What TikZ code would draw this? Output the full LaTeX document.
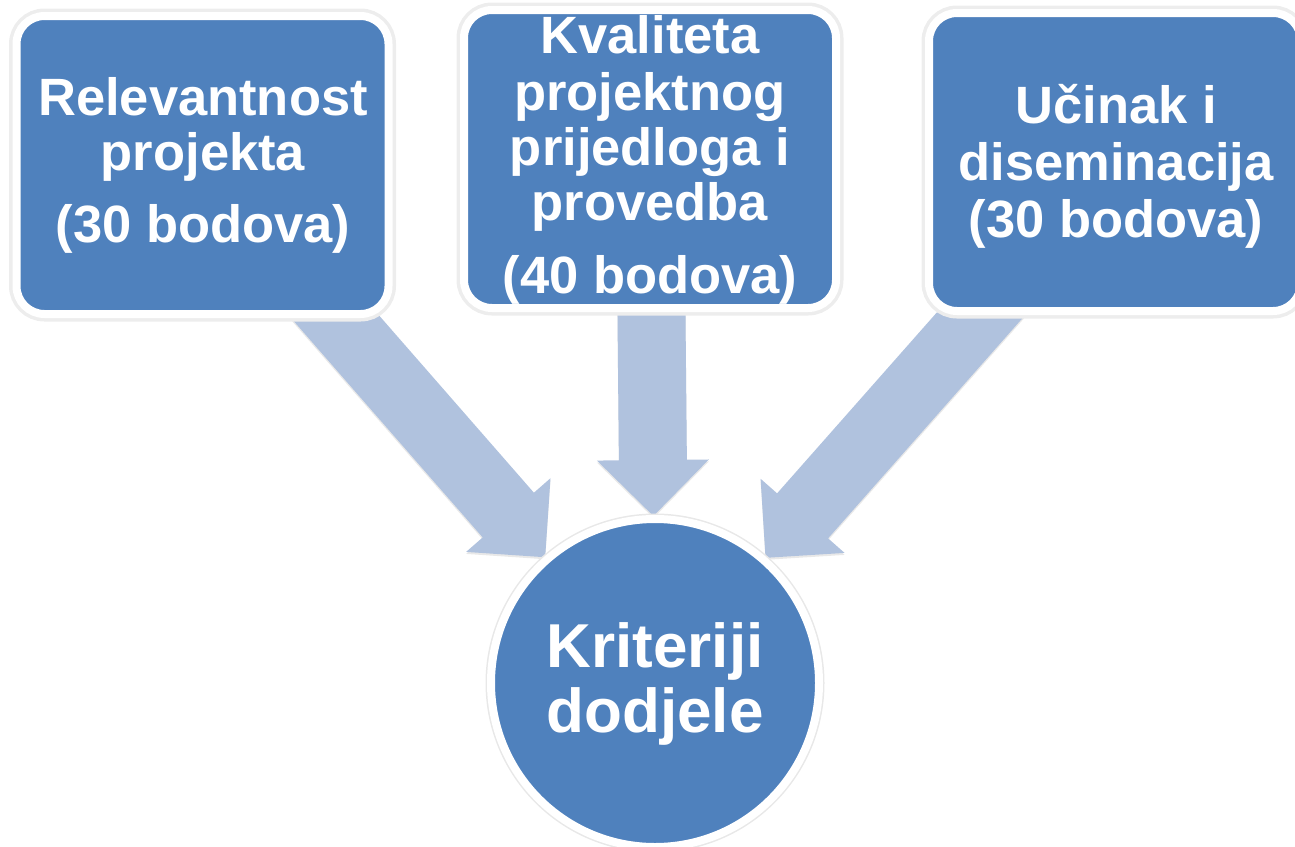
\documentclass[tikz,border=0pt]{standalone}
\usepackage{fontspec}
\setmainfont{Liberation Sans}
\usetikzlibrary{calc,shadows,backgrounds}
\definecolor{boxblue}{HTML}{4F81BD}
\definecolor{arrowc}{HTML}{B0C2DE}
\tikzset{
  box/.style={rectangle, rounded corners=28pt, minimum width=372pt, minimum height=298pt,
    fill=boxblue, draw=white, line width=8pt, inner sep=0pt,
    preaction={draw=black!14, line width=12pt},
    preaction={draw=black!7, line width=15pt}},
  hub/.style={circle, minimum size=328pt, fill=boxblue, draw=white, line width=8pt, inner sep=0pt,
    preaction={draw=black!9, line width=11pt}},
  lbl/.style={text=white, inner sep=0pt, anchor=base, font=\bfseries\fontsize{52.5}{56}\selectfont},
  biglbl/.style={text=white, inner sep=0pt, anchor=base, font=\bfseries\fontsize{62}{65}\selectfont},
  arr/.style={fill=arrowc, draw=none,
    drop shadow={shadow xshift=0pt, shadow yshift=-2pt, opacity=0.18}}
}
\newcommand\blockarrow[3]{%
  \coordinate (#3T) at ($(#2.center)!167pt!(#1.center)$);
  \coordinate (#3H) at ($(#3T)!56pt!(#1.center)$);
  \fill[arr] ($(#1.center)!34pt!90:(#3T)$) -- ($(#3H)!34pt!90:(#3T)$) -- ($(#3H)!56pt!90:(#3T)$)
    -- (#3T) -- ($(#3H)!56pt!-90:(#3T)$) -- ($(#3H)!34pt!-90:(#3T)$) -- ($(#1.center)!34pt!-90:(#3T)$) -- cycle;
}
\begin{document}
\begin{tikzpicture}[x=1pt,y=-1pt]
\useasboundingbox (0,0) rectangle (1295,846);
\clip (0,0) rectangle (1295,846);
% boxes
\node[box] (rel)  at (202.5,165) {};
\node[box] (kval) at (650,159) {};
\node[box] (ucin) at (1115,162) {};
\node[hub] (krit) at (655,683) {};
% arrows behind
\begin{pgfonlayer}{background}
\blockarrow{rel}{krit}{a}
\blockarrow{kval}{krit}{b}
\blockarrow{ucin}{krit}{c}
\end{pgfonlayer}
% texts
\node[lbl] (rel1) at (203,115) {Relevantnost};
\node[lbl] (rel2) at (203,170) {projekta};
\node[lbl] (rel3) at (203,242) {(30 bodova)};
\node[lbl] (kv1) at (650,53) {Kvaliteta};
\node[lbl] (kv2) at (650,110) {projektnog};
\node[lbl] (kv3) at (650,165) {prijedloga i};
\node[lbl] (kv4) at (650,220) {provedba};
\node[lbl] (kv5) at (650,293) {(40 bodova)};
\node[lbl] (uc1) at (1116,123) {Učinak i};
\node[lbl] (uc2) at (1116,180) {diseminacija};
\node[lbl] (uc3) at (1116,237) {(30 bodova)};
\node[biglbl] (kr1) at (655,667) {Kriteriji};
\node[biglbl] (kr2) at (655,732) {dodjele};
\end{tikzpicture}
\end{document}
